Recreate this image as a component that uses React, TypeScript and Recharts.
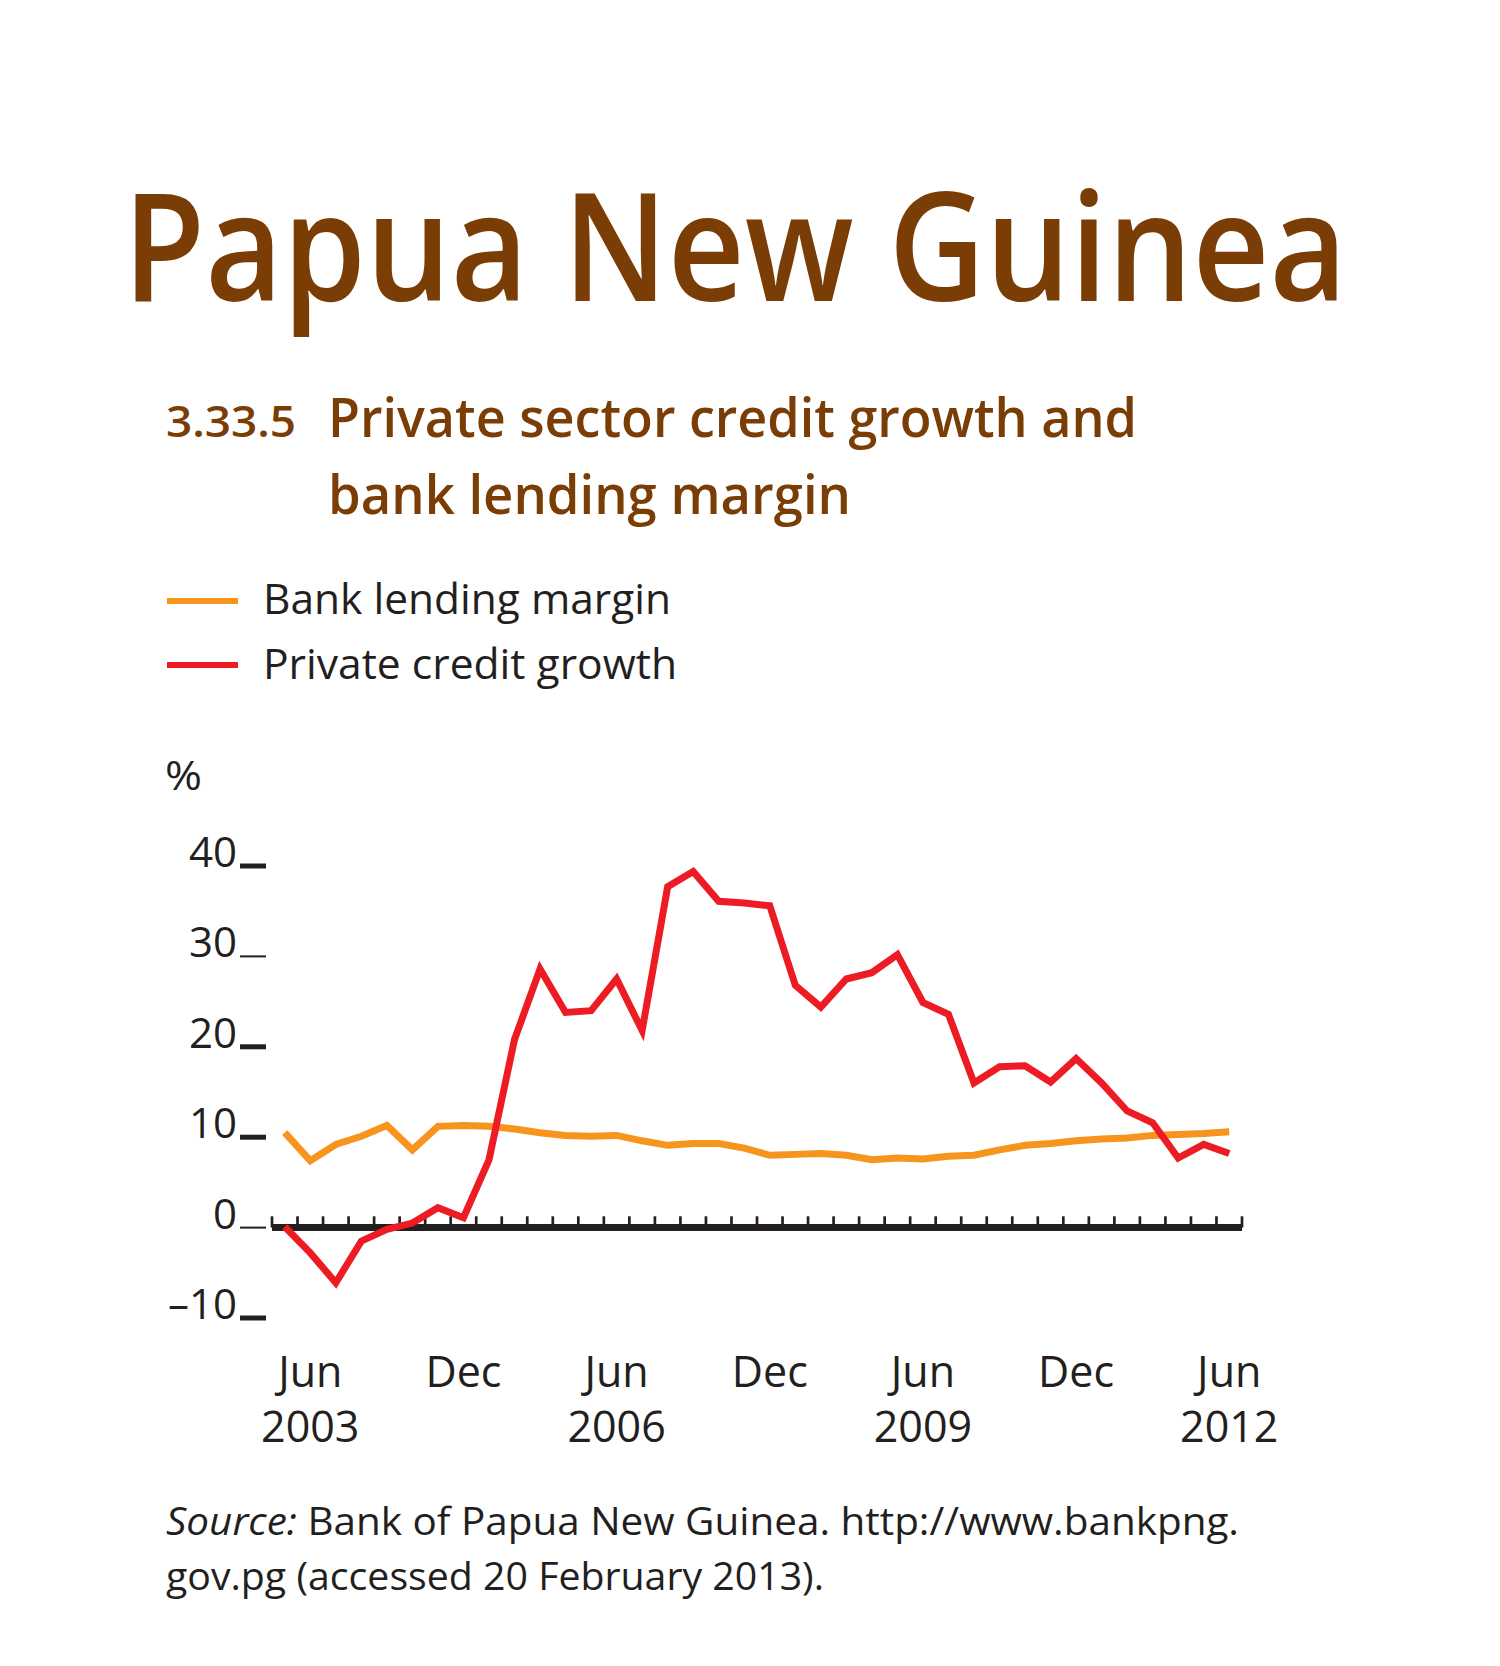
import React from 'react'
import { LineChart, Line, XAxis, YAxis, ReferenceLine } from 'recharts'

// quarterly observations, Mar 2003 .. Jun 2012
const quarters = [
  'Mar 2003', 'Jun 2003', 'Sep 2003', 'Dec 2003',
  'Mar 2004', 'Jun 2004', 'Sep 2004', 'Dec 2004',
  'Mar 2005', 'Jun 2005', 'Sep 2005', 'Dec 2005',
  'Mar 2006', 'Jun 2006', 'Sep 2006', 'Dec 2006',
  'Mar 2007', 'Jun 2007', 'Sep 2007', 'Dec 2007',
  'Mar 2008', 'Jun 2008', 'Sep 2008', 'Dec 2008',
  'Mar 2009', 'Jun 2009', 'Sep 2009', 'Dec 2009',
  'Mar 2010', 'Jun 2010', 'Sep 2010', 'Dec 2010',
  'Mar 2011', 'Jun 2011', 'Sep 2011', 'Dec 2011',
  'Mar 2012', 'Jun 2012',
]

const bankLendingMargin = [
  10.5, 7.4, 9.2, 10.1, 11.3, 8.6, 11.2, 11.3, 11.2, 10.9, 10.5, 10.2, 10.1,
  10.2, 9.6, 9.1, 9.3, 9.3, 8.8, 8.0, 8.1, 8.2, 8.0, 7.5, 7.7, 7.6,
  7.9, 8.0, 8.6, 9.1, 9.3, 9.6, 9.8, 9.9, 10.2, 10.3, 10.4, 10.6,
]

const privateCreditGrowth = [
  0.1, -2.8, -6.1, -1.5, -0.2, 0.5, 2.2, 1.1, 7.5, 20.8, 28.6, 23.8, 24.0,
  27.5, 21.8, 37.7, 39.4, 36.1, 35.9, 35.6, 26.8, 24.4, 27.5, 28.2, 30.2, 24.9,
  23.6, 16.0, 17.8, 17.9, 16.1, 18.7, 16.0, 12.9, 11.6, 7.7, 9.2, 8.2,
]

const xLabels = [
  { period: 'Jun 2003', month: 'Jun', year: '2003' },
  { period: 'Dec 2004', month: 'Dec', year: '' },
  { period: 'Jun 2006', month: 'Jun', year: '2006' },
  { period: 'Dec 2007', month: 'Dec', year: '' },
  { period: 'Jun 2009', month: 'Jun', year: '2009' },
  { period: 'Dec 2010', month: 'Dec', year: '' },
  { period: 'Jun 2012', month: 'Jun', year: '2012' },
]

const yTicks = [-10, 0, 10, 20, 30, 40]

const BROWN = '#7b3d06'
const INK = '#231f20'
const ORANGE = '#f7941d'
const RED = '#ed1c24'
const FONT = '"Open Sans", "Noto Sans", sans-serif'

const data = quarters.map((q, i) => ({
  idx: i,
  period: q,
  margin: bankLendingMargin[i],
  credit: privateCreditGrowth[i],
}))

const labelIdx = xLabels.map(l => quarters.indexOf(l.period))
const boundaries = [...quarters.map((_, i) => i - 0.5), quarters.length - 0.5]

const thinTick = (v: number) => v === 30 || v === 0

function LeftTick({ x, y, payload }: any) {
  const v = payload.value
  return (
    <g>
      <line x1={x - 32} x2={x - 6} y1={y} y2={y} stroke={INK} strokeWidth={thinTick(v) ? 2 : 5} />
      <text x={x - 35} y={y + 1} textAnchor="end" fontSize={42} fill={INK} fontFamily={FONT}>
        {v < 0 ? '\u2013' + Math.abs(v) : v}
      </text>
    </g>
  )
}

function RightTick({ x, y, payload }: any) {
  return (
    <line x1={x + 5} x2={x + 32} y1={y} y2={y} stroke={INK} strokeWidth={thinTick(payload.value) ? 2 : 5} />
  )
}

function BottomTick({ x, y, payload }: any) {
  const lab = xLabels[labelIdx.indexOf(payload.value)]
  if (!lab) return null
  return (
    <g fontFamily={FONT} fontSize={43} fill={INK}>
      <text x={x} y={y + 69} textAnchor="middle">{lab.month}</text>
      {lab.year && <text x={x} y={y + 124} textAnchor="middle">{lab.year}</text>}
    </g>
  )
}

export default function App() {
  return (
    <div style={{ position: 'absolute', left: 0, top: 0, width: 1500, height: 1666, background: '#fff' }}>
      <div style={{ position: 'absolute', left: 0, top: 0 }}>
        <LineChart width={1500} height={1666} data={data} margin={{ top: 866, right: 0, bottom: 0, left: 0 }}>
          <XAxis
            dataKey="idx"
            type="number"
            domain={[-0.5, quarters.length - 0.5]}
            ticks={labelIdx}
            allowDataOverflow
            height={348}
            axisLine={false}
            tickLine={false}
            tickSize={0}
            tickMargin={0}
            interval={0}
            tick={<BottomTick />}
          />
          <YAxis
            yAxisId="left"
            domain={[-10, 40]}
            ticks={yTicks}
            width={272}
            axisLine={false}
            tickLine={false}
            tickSize={0}
            tickMargin={0}
            interval={0}
            tick={<LeftTick />}
          />
          <YAxis
            yAxisId="right"
            orientation="right"
            domain={[-10, 40]}
            ticks={yTicks}
            width={258}
            axisLine={false}
            tickLine={false}
            tickSize={0}
            tickMargin={0}
            interval={0}
            tick={<RightTick />}
          />
          <ReferenceLine yAxisId="left" y={0} stroke={INK} strokeWidth={7} />
          {boundaries.map(b => (
            <ReferenceLine
              key={b}
              yAxisId="left"
              segment={[{ x: b, y: 0 }, { x: b, y: 1.25 }]}
              stroke={INK}
              strokeWidth={2.7}
            />
          ))}
          <Line yAxisId="left" type="linear" dataKey="margin" stroke={ORANGE} strokeWidth={7} dot={false} isAnimationActive={false} />
          <Line yAxisId="left" type="linear" dataKey="credit" stroke={RED} strokeWidth={7} dot={false} isAnimationActive={false} />
        </LineChart>
      </div>
      <svg
        width={1500}
        height={1666}
        style={{ position: 'absolute', left: 0, top: 0, pointerEvents: 'none' }}
        fontFamily={FONT}
      >
        <text x={123} y={301} fontSize={150} fontWeight={600} fill={BROWN} textLength={1224} lengthAdjust="spacingAndGlyphs">
          Papua New Guinea
        </text>
        <text x={166} y={437} fontSize={44} fontWeight={600} fill={BROWN} textLength={130} lengthAdjust="spacingAndGlyphs">
          3.33.5
        </text>
        <text x={328} y={437} fontSize={55} fontWeight={600} fill={BROWN} textLength={809} lengthAdjust="spacingAndGlyphs">
          Private sector credit growth and
        </text>
        <text x={328} y={514} fontSize={55} fontWeight={600} fill={BROWN} textLength={523} lengthAdjust="spacingAndGlyphs">
          bank lending margin
        </text>

        <line x1={167} x2={238} y1={601} y2={601} stroke={ORANGE} strokeWidth={6} />
        <text x={263} y={614} fontSize={42} fill={INK} textLength={408} lengthAdjust="spacingAndGlyphs">
          Bank lending margin
        </text>
        <line x1={167} x2={238} y1={665} y2={665} stroke={RED} strokeWidth={6} />
        <text x={263} y={679} fontSize={42} fill={INK} textLength={414} lengthAdjust="spacingAndGlyphs">
          Private credit growth
        </text>

        <text x={165} y={790} fontSize={40} fill={INK} textLength={37} lengthAdjust="spacingAndGlyphs">
          %
        </text>

        <text x={166} y={1535} fontSize={39} fill={INK} textLength={1073} lengthAdjust="spacingAndGlyphs">
          <tspan fontStyle="italic">Source:</tspan> Bank of Papua New Guinea. http://www.bankpng.
        </text>
        <text x={166} y={1590} fontSize={39} fill={INK} textLength={658} lengthAdjust="spacingAndGlyphs">
          gov.pg (accessed 20 February 2013).
        </text>
      </svg>
    </div>
  )
}
